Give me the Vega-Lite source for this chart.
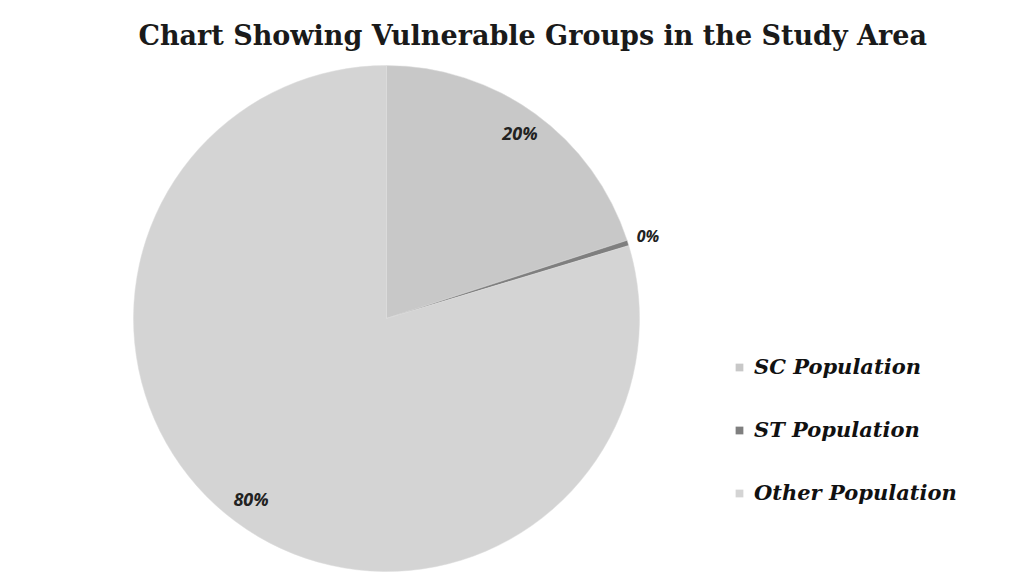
{
  "$schema": "https://vega.github.io/schema/vega-lite/v6.json",
  "autosize": {"type": "none"},
  "width": 507,
  "height": 507,
  "padding": {"left": 133, "top": 65, "right": 389, "bottom": 4},
  "background": "white",
  "title": {
    "text": "Chart Showing Vulnerable Groups in the Study Area",
    "font": "DejaVu Serif",
    "fontSize": 27,
    "fontWeight": "bold",
    "color": "#1a1a1a",
    "anchor": "start",
    "dx": 6,
    "offset": 14
  },
  "data": {
    "values": [
      {"group": "SC Population", "share": 0.2, "order": 1},
      {"group": "ST Population", "share": 0.0035, "order": 2},
      {"group": "Other Population", "share": 0.7965, "order": 3}
    ]
  },
  "encoding": {
    "theta": {"field": "share", "type": "quantitative", "stack": true},
    "order": {"field": "order", "type": "quantitative"}
  },
  "layer": [
    {
      "mark": {"type": "arc", "outerRadius": 253, "stroke": "#dddddd", "strokeWidth": 0.5},
      "encoding": {
        "color": {
          "field": "group",
          "type": "nominal",
          "scale": {
            "domain": ["SC Population", "ST Population", "Other Population"],
            "range": ["#c8c8c8", "#7f7f7f", "#d4d4d4"]
          },
          "legend": {
            "title": null,
            "orient": "none",
            "legendX": 596,
            "legendY": 292,
            "padding": 0,
            "symbolType": "square",
            "symbolSize": 60,
            "symbolStrokeWidth": 0,
            "labelFont": "DejaVu Serif",
            "labelFontSize": 21,
            "labelFontStyle": "italic",
            "labelFontWeight": "bold",
            "labelColor": "#111111",
            "labelOffset": 4,
            "labelLimit": 0,
            "rowPadding": 41
          }
        }
      }
    },
    {
      "mark": {"type": "text", "radius": 227, "font": "Open Sans", "fontSize": 18, "fontStyle": "italic", "fontWeight": "bold", "color": "#222222"},
      "encoding": {
        "text": {
          "condition": {"test": "datum.group === 'ST Population'", "value": ""},
          "field": "share", "type": "quantitative", "format": ".0%"
        }
      }
    },
    {
      "mark": {"type": "text", "radius": 274, "font": "Open Sans", "fontSize": 16, "fontStyle": "italic", "fontWeight": "bold", "color": "#222222"},
      "encoding": {
        "text": {
          "condition": {"test": "datum.group !== 'ST Population'", "value": ""},
          "field": "share", "type": "quantitative", "format": ".0%"
        }
      }
    }
  ]
}
